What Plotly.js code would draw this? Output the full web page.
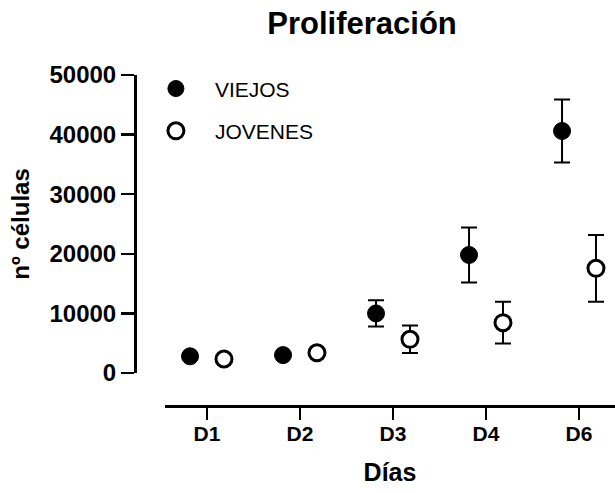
<!DOCTYPE html>
<html>
<head>
<meta charset="utf-8">
<script src="https://cdn.plot.ly/plotly-3.0.1.min.js"></script>
<style>html,body{margin:0;padding:0;background:#fff;}#chart{width:615px;height:493px;}</style>
</head>
<body>
<div id="chart"></div>
<script>
const days = ['D1', 'D2', 'D3', 'D4', 'D6'];
const viejos = [2800, 3000, 10000, 19800, 40600];
const viejosErr = [300, 300, 2200, 4600, 5300];
const jovenes = [2350, 3400, 5650, 8440, 17570];
const jovenesErr = [300, 300, 2300, 3500, 5600];
const yTicks = [0, 10000, 20000, 30000, 40000, 50000];

const FONT = 'Arial, "Liberation Sans", sans-serif';

const traces = [
  {
    type: 'scatter', mode: 'markers', name: 'VIEJOS', x: days, y: viejos,
    legendgroup: 'v', offsetgroup: 'v', cliponaxis: false,
    marker: {symbol: 'circle', size: 17, color: '#000', line: {color: '#000', width: 1}},
    error_y: {type: 'data', array: viejosErr, visible: true, color: '#000', thickness: 2, width: 8}
  },
  {
    type: 'scatter', mode: 'markers', name: 'JOVENES', x: days, y: jovenes,
    legendgroup: 'j', offsetgroup: 'j', cliponaxis: false,
    marker: {symbol: 'circle', size: 16, color: '#fff', line: {color: '#000', width: 3}},
    error_y: {type: 'data', array: jovenesErr, visible: true, color: '#000', thickness: 2, width: 8}
  }
];

const layout = {
  width: 615, height: 493,
  paper_bgcolor: '#fff', plot_bgcolor: '#fff',
  margin: {l: 135, r: 0, t: 75, b: 87},
  font: {family: FONT, color: '#000'},
  scattermode: 'group',
  scattergap: 0.27,
  showlegend: true,
  title: {
    text: 'Proliferación', font: {family: FONT, size: 31, weight: 'bold', color: '#000'},
    x: 0.473, xref: 'paper', xanchor: 'center', y: 0.953, yref: 'container', yanchor: 'middle'
  },
  legend: {
    x: 0.004, y: 1.02, xanchor: 'left', yanchor: 'top',
    font: {family: FONT, size: 21, color: '#000'},
    itemwidth: 68,
    bgcolor: 'rgba(0,0,0,0)', tracegroupgap: 12
  },
  xaxis: {
    type: 'category',
    domain: [30 / 480, 1],
    range: [-0.4516, 4.387],
    anchor: 'free', position: 0,
    showgrid: false, zeroline: false,
    showline: true, linecolor: '#000', linewidth: 3,
    ticks: 'outside', ticklen: 12, tickwidth: 2.5, tickcolor: '#000',
    ticklabelstandoff: -4,
    tickfont: {family: FONT, size: 21, weight: 'bold', color: '#000'},
    title: {text: 'Días', font: {family: FONT, size: 25, weight: 'bold', color: '#000'}, standoff: 19}
  },
  yaxis: {
    domain: [33 / 331, 1],
    range: [0, 50000],
    anchor: 'free', position: 0,
    tickvals: yTicks, ticktext: yTicks.map(String),
    showgrid: false, zeroline: false,
    showline: true, linecolor: '#000', linewidth: 3,
    ticks: 'outside', ticklen: 13, tickwidth: 2.5, tickcolor: '#000',
    tickfont: {family: FONT, size: 24, weight: 'bold', color: '#000'},
    title: {text: 'nº células', font: {family: FONT, size: 24, weight: 'bold', color: '#000'}, standoff: 12}
  }
};

Plotly.newPlot('chart', traces, layout, {displayModeBar: false, staticPlot: true});
</script>
</body>
</html>
